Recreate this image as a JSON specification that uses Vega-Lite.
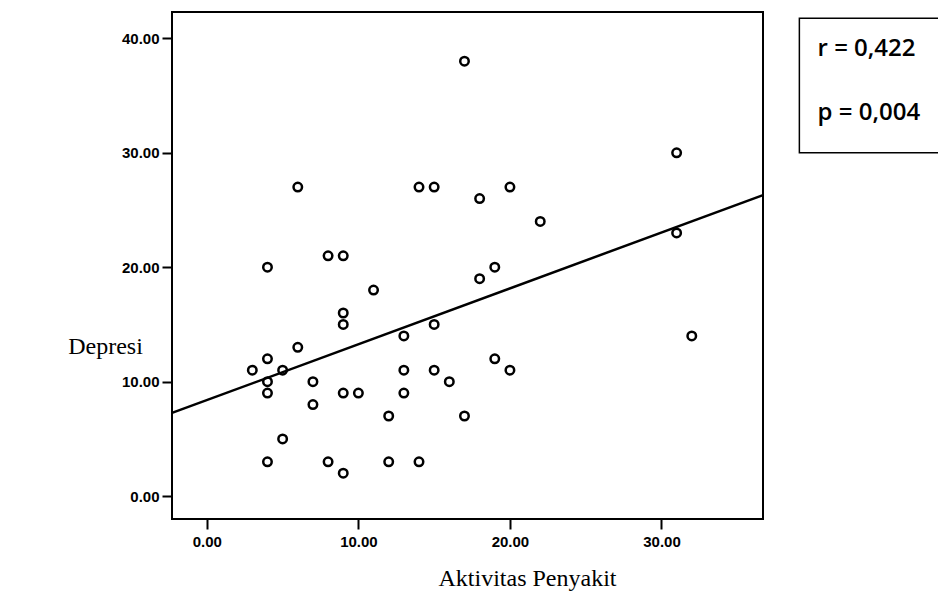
{
  "$schema": "https://vega.github.io/schema/vega-lite/v6.json",
  "autosize": "none",
  "width": 591,
  "height": 507,
  "padding": {"left": 172, "top": 12, "right": 175, "bottom": 72},
  "background": "white",
  "config": {
    "view": {"stroke": "black", "strokeWidth": 2},
    "axis": {"grid": false, "domain": false, "tickColor": "black", "tickWidth": 2, "tickSize": 10,
             "labelFont": "Liberation Sans", "labelFontSize": 15, "labelFontWeight": "bold", "labelColor": "black",
             "titleFont": "Liberation Serif", "titleFontSize": 24, "titleFontWeight": "normal", "titleColor": "black"}
  },
  "datasets": {
    "pts": [
      {"Aktivitas": 6, "Depresi": 27}, {"Aktivitas": 4, "Depresi": 20}, {"Aktivitas": 8, "Depresi": 21},
      {"Aktivitas": 9, "Depresi": 21}, {"Aktivitas": 11, "Depresi": 18}, {"Aktivitas": 9, "Depresi": 16},
      {"Aktivitas": 9, "Depresi": 15}, {"Aktivitas": 6, "Depresi": 13}, {"Aktivitas": 4, "Depresi": 12},
      {"Aktivitas": 3, "Depresi": 11}, {"Aktivitas": 5, "Depresi": 11}, {"Aktivitas": 4, "Depresi": 10},
      {"Aktivitas": 4, "Depresi": 9}, {"Aktivitas": 7, "Depresi": 10}, {"Aktivitas": 7, "Depresi": 8},
      {"Aktivitas": 9, "Depresi": 9}, {"Aktivitas": 10, "Depresi": 9}, {"Aktivitas": 5, "Depresi": 5},
      {"Aktivitas": 4, "Depresi": 3}, {"Aktivitas": 8, "Depresi": 3}, {"Aktivitas": 9, "Depresi": 2},
      {"Aktivitas": 17, "Depresi": 38}, {"Aktivitas": 14, "Depresi": 27}, {"Aktivitas": 15, "Depresi": 27},
      {"Aktivitas": 18, "Depresi": 26}, {"Aktivitas": 20, "Depresi": 27}, {"Aktivitas": 22, "Depresi": 24},
      {"Aktivitas": 18, "Depresi": 19}, {"Aktivitas": 19, "Depresi": 20}, {"Aktivitas": 13, "Depresi": 14},
      {"Aktivitas": 15, "Depresi": 15}, {"Aktivitas": 19, "Depresi": 12}, {"Aktivitas": 20, "Depresi": 11},
      {"Aktivitas": 13, "Depresi": 11}, {"Aktivitas": 15, "Depresi": 11}, {"Aktivitas": 16, "Depresi": 10},
      {"Aktivitas": 13, "Depresi": 9}, {"Aktivitas": 12, "Depresi": 7}, {"Aktivitas": 17, "Depresi": 7},
      {"Aktivitas": 12, "Depresi": 3}, {"Aktivitas": 14, "Depresi": 3}, {"Aktivitas": 31, "Depresi": 30},
      {"Aktivitas": 31, "Depresi": 23}, {"Aktivitas": 32, "Depresi": 14}
    ],
    "box": [{"x1": 39.1, "x2": 49.5, "y1": 30.0, "y2": 41.75}],
    "stats": [
      {"tx": 40.3, "ty": 39.1, "label": "r = 0,422"},
      {"tx": 40.3, "ty": 33.5, "label": "p = 0,004"}
    ]
  },
  "layer": [
    {
      "data": {"name": "pts"},
      "mark": {"type": "point", "shape": "circle", "filled": false, "color": "black", "strokeWidth": 2.5, "size": 72, "opacity": 1},
      "encoding": {
        "x": {"field": "Aktivitas", "type": "quantitative",
              "scale": {"domain": [-2.3, 36.7], "nice": false, "zero": false},
              "axis": {"values": [0, 10, 20, 30], "format": ".2f", "labelPadding": 5,
                       "title": "Aktivitas Penyakit", "titleX": 355, "titleY": 66, "titleAlign": "center", "titleBaseline": "alphabetic"}},
        "y": {"field": "Depresi", "type": "quantitative",
              "scale": {"domain": [-2.0, 42.3], "nice": false, "zero": false},
              "axis": {"values": [0, 10, 20, 30, 40], "format": ".2f", "labelPadding": 3,
                       "title": "Depresi", "titleAngle": 0, "titleX": -67, "titleY": 334, "titleAlign": "center", "titleBaseline": "middle"}}
      }
    },
    {
      "data": {"name": "pts"},
      "transform": [{"regression": "Depresi", "on": "Aktivitas", "extent": [-2.3, 36.7]}],
      "mark": {"type": "line", "color": "black", "strokeWidth": 2.5},
      "encoding": {
        "x": {"field": "Aktivitas", "type": "quantitative"},
        "y": {"field": "Depresi", "type": "quantitative"}
      }
    },
    {
      "data": {"name": "box"},
      "mark": {"type": "rect", "fill": null, "fillOpacity": 0, "stroke": "black", "strokeWidth": 1.5},
      "encoding": {
        "x": {"field": "x1", "type": "quantitative"},
        "x2": {"field": "x2"},
        "y": {"field": "y1", "type": "quantitative"},
        "y2": {"field": "y2"}
      }
    },
    {
      "data": {"name": "stats"},
      "mark": {"type": "text", "align": "left", "baseline": "middle", "font": "Open Sans", "fontSize": 24, "fontWeight": 600, "color": "black"},
      "encoding": {
        "x": {"field": "tx", "type": "quantitative"},
        "y": {"field": "ty", "type": "quantitative"},
        "text": {"field": "label"}
      }
    }
  ]
}
